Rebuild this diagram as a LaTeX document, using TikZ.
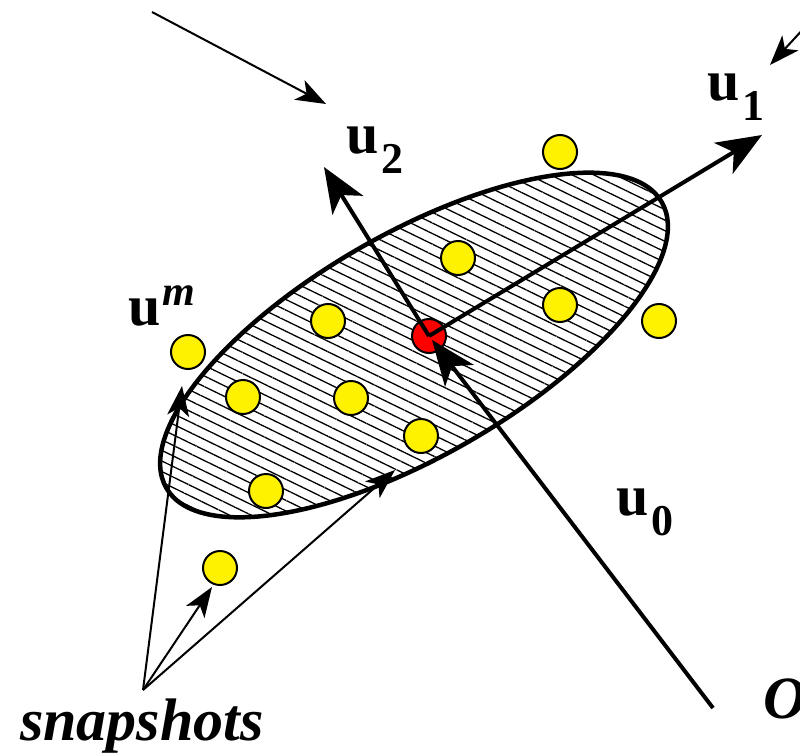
\documentclass[tikz,border=0pt]{standalone}
\usepackage{fontspec}
\setmainfont{Liberation Serif}
\usetikzlibrary{arrows.meta,patterns.meta}

\newcommand{\usub}[1]{u\kern3pt\raisebox{-20pt}{\fontsize{44}{44}\selectfont #1}}

\begin{document}
\begin{tikzpicture}[
  x=1pt, y=-1pt,
  snap/.style={circle, draw, line width=2pt, fill=yellow, inner sep=0pt, minimum size=34pt},
  mean/.style={snap, fill=red},
  bigarr/.style={-{Stealth[length=45pt, width=36pt, inset=12pt]}, line width=4pt},
  thinarr/.style={-{Stealth[length=30pt, width=22pt, inset=8pt]}, line width=2pt},
  lbl/.style={font=\fontsize{58}{60}\selectfont\bfseries, inner sep=0pt, anchor=base west}
]
\useasboundingbox (0,0) rectangle (800,752);

% hatched cloud
\draw[line width=4.5pt, pattern={Lines[angle=-26, distance=9.5pt, line width=1.3pt]},
  rotate around={30:(414,345)}] (414,345) ellipse [x radius=286, y radius=111];

% snapshots
\foreach \p [count=\i] in {(560,152),(458,258),(560,305),(659,321),(328,321),(188,352),
  (243,397),(351,398),(421,436),(266,491),(220,568)}
  \node[snap] (s\i) at \p {};
\node[mean] (c) at (429,336) {};

% axes
\coordinate (u1tip) at (762,135);
\coordinate (u2tip) at (324,167);
\coordinate (orig) at (713,708);
\draw[bigarr] (c.center) -- (u1tip);
\draw[bigarr] (c.center) -- (u2tip);
\draw[bigarr, shorten >=5pt] (orig) -- (c.center);

% labels
\node[lbl] (l1) at (707,100) {\usub{1}};
\node[lbl] (l2) at (346,153) {\usub{2}};
\node[lbl] (lm) at (128,325) {u\kern2pt\raisebox{20pt}{\fontsize{42}{42}\selectfont\itshape m}};
\node[lbl] (l0) at (616,515) {\usub{0}};
\node[lbl, font=\fontsize{60}{60}\selectfont\bfseries\itshape] (lO) at (763,718) {O};
\node[lbl, font=\fontsize{60}{60}\selectfont\bfseries\itshape] (lsnap) at (20,740) {snapshots};

% pointers
\coordinate (apex) at (143,690);
\coordinate (pm) at (182,386);
\coordinate (p11) at (212,587);
\coordinate (pe) at (395,470);
\draw[thinarr] (apex) -- (pm);
\draw[thinarr] (apex) -- (p11);
\draw[thinarr] (apex) -- (pe);
\coordinate (tl) at (152,12);
\coordinate (tlend) at (326,104);
\draw[thinarr] (tl) -- (tlend);
\coordinate (tr) at (806,26);
\coordinate (trend) at (770,65);
\draw[thinarr] (tr) -- (trend);
\end{tikzpicture}
\end{document}
